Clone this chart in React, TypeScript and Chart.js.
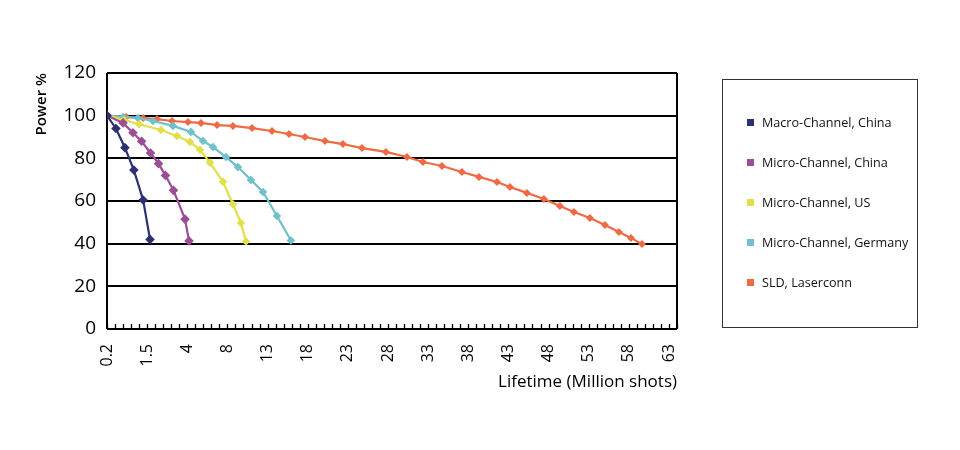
import React, { useEffect, useRef } from 'react';
import { Chart, registerables } from 'chart.js';

Chart.register(...registerables);

// Visible category labels on the x axis (one label every 5 categories)
const xTickLabels = [0.2, 1.5, 4, 8, 13, 18, 23, 28, 33, 38, 43, 48, 53, 58, 63];
const categoriesPerLabel = 5;
const categoryCount = 72;

const yMin = 0;
const yMax = 120;
const yStep = 20;

const seriesNames = [
  'Macro-Channel, China',
  'Micro-Channel, China',
  'Micro-Channel, US',
  'Micro-Channel, Germany',
  'SLD, Laserconn',
];
const seriesColors = ['#2b3170', '#9b4e95', '#e1e04a', '#71c0cb', '#ef6a43'];
const seriesMarkerRadius = [4.8, 4.8, 4.3, 4.3, 4];

// Lifetime (million shots) and power (%)
const macroChinaX = [0.2, 0.49, 0.78, 1.07, 1.37, 1.68];
const macroChinaY = [100, 94, 85, 74.5, 60.5, 42];

const microChinaX = [0.2, 0.72, 1.04, 1.32, 1.71, 2.21, 2.64, 3.14, 3.86, 4.17];
const microChinaY = [100, 96.6, 92, 88, 82.5, 77.5, 72, 65, 51.5, 41.3];

const microUSX = [0.2, 0.75, 1.24, 2.36, 3.36, 4.27, 5.27, 6.26, 7.56, 8.69, 9.69, 10.31];
const microUSY = [100, 98, 96, 93.3, 90.5, 87.7, 84, 78, 69, 58.5, 49.7, 41];

const microGermanyX = [0.2, 0.72, 1.2, 1.86, 3.11, 4.37, 5.57, 6.56, 7.86, 9.31, 10.93, 12.43, 14.17, 15.91];
const microGermanyY = [100, 99.4, 98.9, 97.5, 95.2, 92.4, 88.1, 85.3, 80.6, 75.9, 69.9, 64.2, 53, 41.5];

const sldX = [0.2, 0.82, 1.37, 2.11, 3.05, 4.07, 5.37, 6.96, 8.69, 11.06, 13.55, 15.67, 17.66, 20.15, 22.39, 24.76,
  27.74, 30.36, 32.35, 34.72, 37.21, 39.33, 41.57, 43.19, 45.3, 47.42, 49.41, 51.16, 53.15, 55.02, 56.76, 58.26, 59.63];
const sldY = [100, 99.4, 98.9, 98.4, 97.5, 97, 96.6, 95.6, 95.2, 94.2, 92.8, 91.4, 90, 88.1, 86.7, 84.8,
  83, 80.6, 78.3, 76.4, 73.6, 71.3, 68.9, 66.6, 63.8, 60.9, 57.7, 54.8, 52, 48.8, 45.5, 42.7, 39.8];

const seriesX = [macroChinaX, microChinaX, microUSX, microGermanyX, sldX];
const seriesY = [macroChinaY, microChinaY, microUSY, microGermanyY, sldY];

// map a lifetime value to its position on the (non-uniform) category axis
function toAxis(v: number): number {
  const n = xTickLabels.length;
  for (let k = 0; k < n - 1; k++) {
    const a = xTickLabels[k];
    const b = xTickLabels[k + 1];
    if (v <= b || k === n - 2) {
      return (k + (v - a) / (b - a)) * categoriesPerLabel;
    }
  }
  return 0;
}

const FONT = '"Open Sans", "Liberation Sans", sans-serif';
const Y_AXIS_W = 80;
const X_AXIS_H = 80;
const AREA = { left: 107, right: 677, top: 73, bottom: 329 };

const framePlugin = {
  id: 'frame',
  beforeDatasetsDraw(chart: any) {
    const { ctx, chartArea } = chart;
    const xs = chart.scales.x;
    ctx.save();
    ctx.strokeStyle = '#000';
    ctx.lineWidth = 2;
    ctx.beginPath();
    ctx.moveTo(chartArea.left, chartArea.top);
    ctx.lineTo(chartArea.left, chartArea.bottom);
    ctx.moveTo(chartArea.right, chartArea.top);
    ctx.lineTo(chartArea.right, chartArea.bottom);
    ctx.stroke();
    ctx.lineWidth = 1.3;
    ctx.beginPath();
    for (const t of xs.ticks) {
      const px = Math.round(xs.getPixelForValue(t.value)) + 0.5;
      ctx.moveTo(px, chartArea.bottom);
      ctx.lineTo(px, chartArea.bottom - 5);
    }
    ctx.stroke();
    ctx.restore();
  },
};

function App() {
  const canvasRef = useRef<HTMLCanvasElement | null>(null);

  useEffect(() => {
    if (!canvasRef.current) return;
    const datasets = seriesNames.map((name, s) => ({
      label: name,
      data: seriesX[s].map((x, i) => ({ x: toAxis(x), y: seriesY[s][i] })),
      borderColor: seriesColors[s],
      backgroundColor: seriesColors[s],
      borderWidth: 2.2,
      pointStyle: 'rectRot',
      pointRadius: seriesMarkerRadius[s],
      pointBorderWidth: 0,
      tension: 0,
    }));

    const chart = new Chart(canvasRef.current, {
      type: 'line',
      data: { datasets } as any,
      plugins: [framePlugin],
      options: {
        animation: false,
        responsive: false,
        layout: {
          padding: {
            left: AREA.left - Y_AXIS_W,
            right: 960 - AREA.right,
            top: AREA.top,
            bottom: 450 - AREA.bottom - X_AXIS_H,
          },
        },
        plugins: { legend: { display: false }, tooltip: { enabled: false } },
        scales: {
          x: {
            type: 'linear',
            min: 0,
            max: categoryCount - 1,
            afterBuildTicks: (scale: any) => {
              scale.ticks = Array.from({ length: categoryCount }, (_, i) => ({ value: i }));
            },
            afterFit: (scale: any) => {
              scale.height = X_AXIS_H;
            },
            grid: { display: false, drawTicks: false },
            border: { display: false },
            ticks: {
              autoSkip: false,
              minRotation: 90,
              maxRotation: 90,
              padding: 15,
              color: '#000',
              font: { family: FONT, size: 16 },
              callback: (value: any) => {
                const v = Number(value);
                if (v % categoriesPerLabel !== 0) return '';
                const k = v / categoriesPerLabel;
                return k < xTickLabels.length ? String(xTickLabels[k]) : '';
              },
            },
            title: {
              display: true,
              text: 'Lifetime (Million shots)',
              align: 'end',
              color: '#000',
              font: { family: FONT, size: 17 },
              padding: { top: 0, bottom: 17 },
            },
          },
          y: {
            min: yMin,
            max: yMax,
            afterFit: (scale: any) => {
              scale.width = Y_AXIS_W;
            },
            grid: { color: '#000', lineWidth: 2, drawTicks: false },
            border: { display: false },
            ticks: {
              stepSize: yStep,
              padding: 11,
              color: '#000',
              font: { family: FONT, size: 19 },
            },
            title: {
              display: true,
              text: 'Power %',
              align: 'end',
              color: '#000',
              font: { family: FONT, size: 15, weight: '600' },
              padding: { top: 6, bottom: 0 },
            },
          },
        },
      } as any,
    });
    return () => chart.destroy();
  }, []);

  return (
    <div style={{ position: 'absolute', left: 0, top: 0, width: 960, height: 450, background: '#fff' }}>
      <canvas ref={canvasRef} width={960} height={450} style={{ display: 'block' }} />
      <div
        style={{
          position: 'absolute',
          left: 722,
          top: 79,
          width: 194,
          height: 247,
          border: '1.5px solid #333',
          fontFamily: FONT,
          fontSize: 12.6,
          color: '#111',
        }}
      >
        {seriesNames.map((name, i) => (
          <div
            key={name}
            style={{
              position: 'absolute',
              left: 24,
              top: 33 + i * 40,
              height: 18,
              display: 'flex',
              alignItems: 'center',
              whiteSpace: 'nowrap',
            }}
          >
            <span style={{ display: 'inline-block', width: 7, height: 7, background: seriesColors[i], marginRight: 8 }} />
            <span>{name}</span>
          </div>
        ))}
      </div>
    </div>
  );
}

export default App;
